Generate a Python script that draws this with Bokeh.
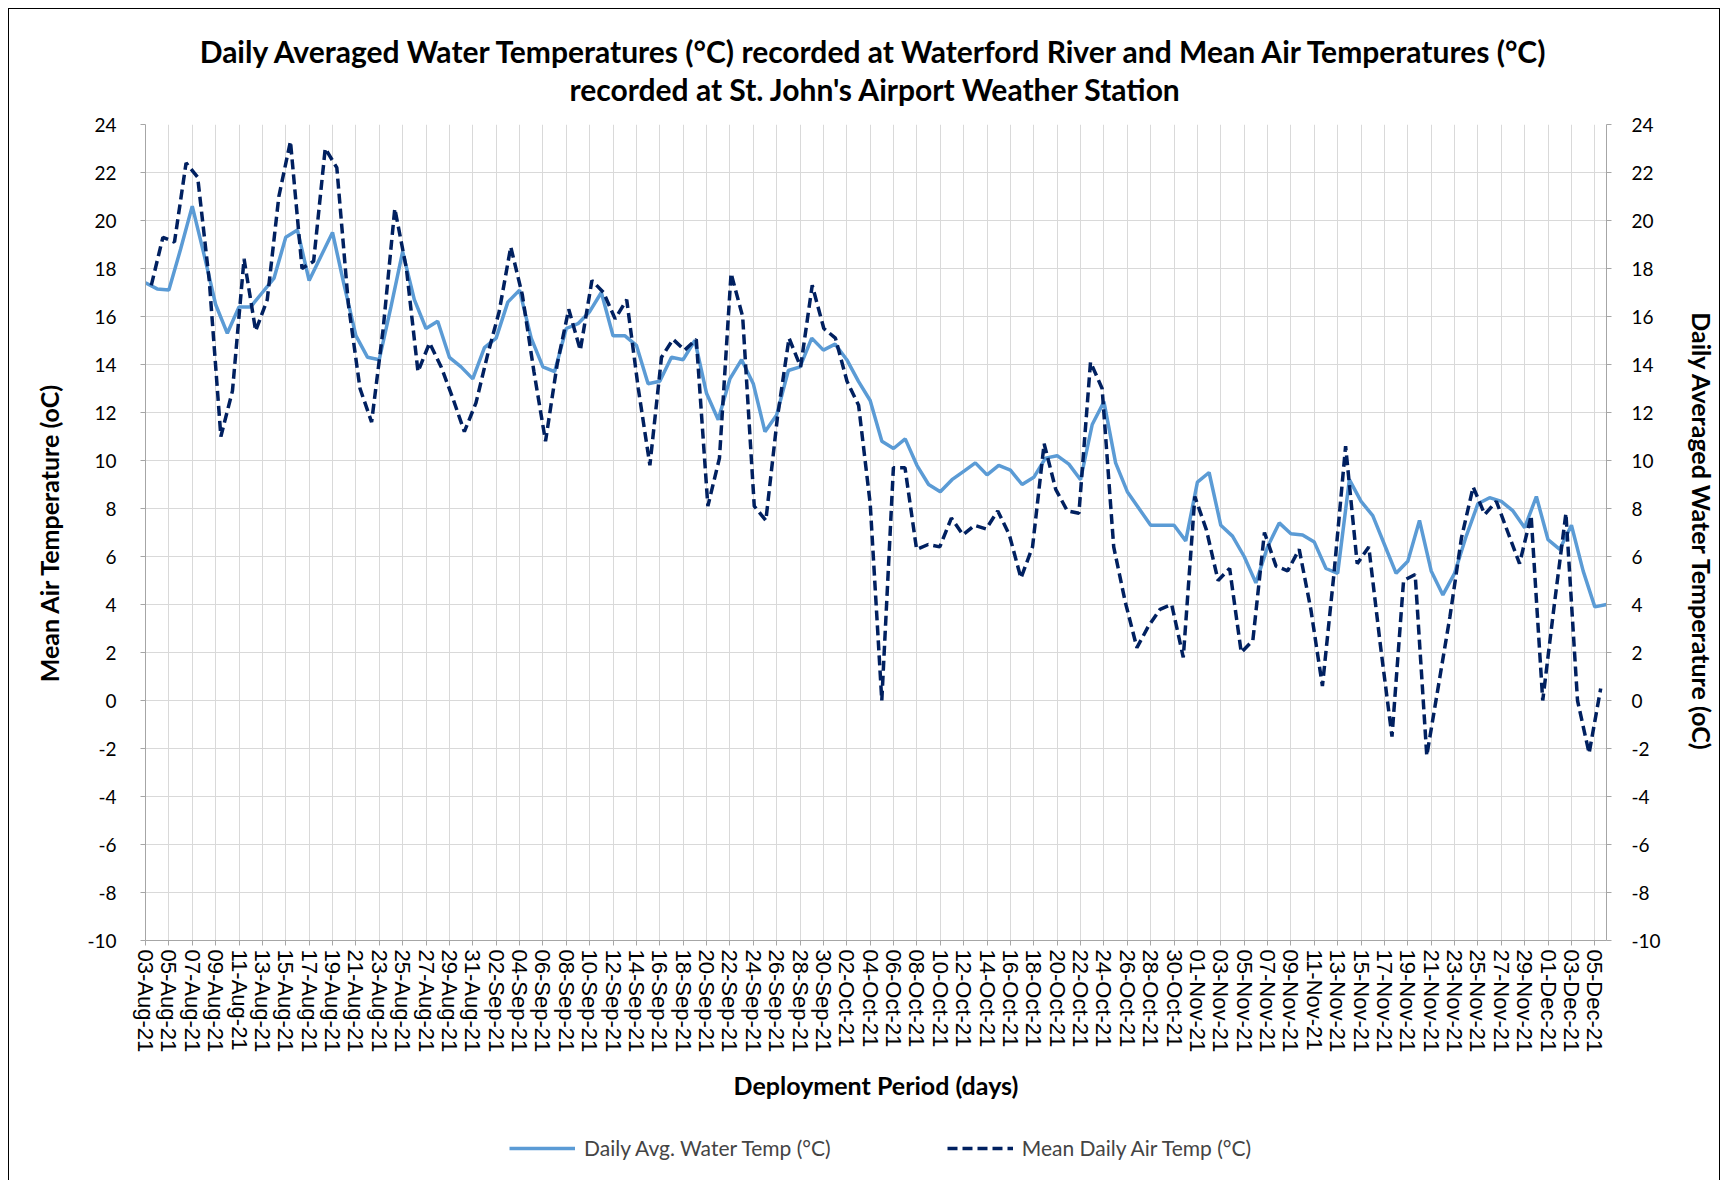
import math
from bokeh.plotting import figure
from bokeh.layouts import column
from bokeh.models import (Range1d, LinearAxis, FixedTicker, Legend, LegendItem, Title)
from bokeh.embed import file_html
from bokeh.resources import INLINE

# ---- data ----
tick_labels = [
    "03-Aug-21", "05-Aug-21", "07-Aug-21", "09-Aug-21", "11-Aug-21", "13-Aug-21", "15-Aug-21",
    "17-Aug-21", "19-Aug-21", "21-Aug-21", "23-Aug-21", "25-Aug-21", "27-Aug-21", "29-Aug-21",
    "31-Aug-21", "02-Sep-21", "04-Sep-21", "06-Sep-21", "08-Sep-21", "10-Sep-21", "12-Sep-21",
    "14-Sep-21", "16-Sep-21", "18-Sep-21", "20-Sep-21", "22-Sep-21", "24-Sep-21", "26-Sep-21",
    "28-Sep-21", "30-Sep-21", "02-Oct-21", "04-Oct-21", "06-Oct-21", "08-Oct-21", "10-Oct-21",
    "12-Oct-21", "14-Oct-21", "16-Oct-21", "18-Oct-21", "20-Oct-21", "22-Oct-21", "24-Oct-21",
    "26-Oct-21", "28-Oct-21", "30-Oct-21", "01-Nov-21", "03-Nov-21", "05-Nov-21", "07-Nov-21",
    "09-Nov-21", "11-Nov-21", "13-Nov-21", "15-Nov-21", "17-Nov-21", "19-Nov-21", "21-Nov-21",
    "23-Nov-21", "25-Nov-21", "27-Nov-21", "29-Nov-21", "01-Dec-21", "03-Dec-21", "05-Dec-21",
]

water_temp = [
    17.4, 17.15, 17.1, 18.8, 20.6, 18.6, 16.5, 15.3, 16.4, 16.4,
    17.0, 17.6, 19.3, 19.6, 17.5, 18.5, 19.5, 17.3, 15.2, 14.3,
    14.2, 16.4, 18.7, 16.7, 15.5, 15.8, 14.3, 13.9, 13.4, 14.7,
    15.1, 16.6, 17.1, 15.1, 13.9, 13.7, 15.5, 15.7, 16.2, 17.0,
    15.2, 15.2, 14.8, 13.2, 13.3, 14.3, 14.2, 15.0, 12.8, 11.7,
    13.4, 14.2, 13.2, 11.2, 11.9, 13.75, 13.9, 15.1, 14.6, 14.85,
    14.2, 13.3, 12.5, 10.8, 10.5, 10.9, 9.8, 9.0, 8.7, 9.2,
    9.55, 9.9, 9.4, 9.8, 9.6, 9.0, 9.3, 10.1, 10.2, 9.85,
    9.2, 11.5, 12.45, 9.9, 8.7, 8.0, 7.3, 7.3, 7.3, 6.65,
    9.1, 9.5, 7.3, 6.85, 6.0, 4.9, 6.4, 7.4, 6.95, 6.9,
    6.6, 5.5, 5.3, 9.2, 8.3, 7.7, 6.5, 5.3, 5.8, 7.5,
    5.4, 4.4, 5.3, 6.85, 8.2, 8.45, 8.3, 7.9, 7.2, 8.5,
    6.7, 6.3, 7.3, 5.4, 3.9, 4.0,
]

air_temp = [
    17.3, 19.3, 19.1, 22.4, 21.8, 17.5, 11.0, 12.9, 18.4, 15.4,
    16.7, 21.0, 23.3, 18.0, 18.3, 23.0, 22.2, 16.5, 13.0, 11.6,
    15.5, 20.5, 18.0, 13.7, 14.9, 13.9, 12.6, 11.2, 12.4, 14.4,
    16.2, 18.9, 16.9, 13.7, 10.8, 14.0, 16.3, 14.6, 17.5, 17.0,
    15.9, 16.7, 13.0, 9.8, 14.3, 15.05, 14.6, 15.05, 8.1, 10.1,
    17.8, 16.0, 8.1, 7.5, 11.8, 15.1, 13.9, 17.3, 15.5, 15.1,
    13.3, 12.3, 8.2, 0.0, 9.7, 9.7, 6.3, 6.5, 6.4, 7.6,
    6.9, 7.3, 7.15, 7.9, 6.9, 5.1, 6.4, 10.7, 8.8, 7.9,
    7.8, 14.1, 13.0, 6.4, 4.1, 2.2, 3.1, 3.8, 4.0, 1.8,
    8.5, 7.1, 5.0, 5.5, 2.0, 2.5, 7.0, 5.6, 5.4, 6.3,
    3.8, 0.6, 5.3, 10.6, 5.7, 6.4, 2.3, -1.5, 5.0, 5.25,
    -2.3, 0.6, 3.5, 6.8, 8.9, 7.75, 8.3, 7.0, 5.7, 7.7,
    0.0, 4.0, 7.8, 0.0, -2.2, 0.5,
]

y_ticks = list(range(-10, 25, 2))
y_tick_labels = [str(v) for v in y_ticks]

series_names = ["Daily Avg. Water Temp (°C)", "Mean Daily Air Temp (°C)"]

# ---- positions ----
span = len(water_temp) - 1
water_x = list(range(len(water_temp)))
n_air = len(air_temp)
# air series sits on a category axis with points centred between tick marks
air_x = [(i + 0.5) * span / n_air for i in range(n_air)]
tick_pos = list(range(0, 2 * len(tick_labels), 2))

FONT = "Lato"
AXIS_GREY = "#a6a6a6"
GRID_GREY = "#d9d9d9"
WATER_STYLE = dict(line_color="#5b9bd5", line_width=3.5)
AIR_STYLE = dict(line_color="#002060", line_width=3.5, line_dash="10 5")

p = figure(
    width=1710, height=1106,
    x_range=Range1d(0, span), y_range=Range1d(-10, 24),
    output_backend="svg", toolbar_location=None,
    min_border_left=136, min_border_right=110,
    min_border_top=115, min_border_bottom=175,
)
p.outline_line_color = None
p.background_fill_color = "white"
p.border_fill_color = "white"

p.extra_y_ranges = {"water": Range1d(-10, 24)}

# grids
p.xgrid.ticker = FixedTicker(ticks=tick_pos)
p.ygrid.ticker = FixedTicker(ticks=y_ticks)
for g in (p.xgrid, p.ygrid):
    g.grid_line_color = GRID_GREY
    g.grid_line_width = 1

# x axis
xa = p.xaxis[0]
xa.ticker = FixedTicker(ticks=tick_pos)
xa.major_label_overrides = {t: lab for t, lab in zip(tick_pos, tick_labels)}
xa.major_label_orientation = -math.pi / 2
xa.axis_label = "Deployment Period (days)"

# left axis
ya = p.yaxis[0]
ya.ticker = FixedTicker(ticks=y_ticks)
ya.axis_label = "Mean Air Temperature (oC)"

# right axis
ra = LinearAxis(y_range_name="water", ticker=FixedTicker(ticks=y_ticks),
                axis_label="Daily Averaged Water Temperature (oC)")
p.add_layout(ra, "right")

for ax in (xa, ya, ra):
    ax.axis_line_color = AXIS_GREY
    ax.major_tick_line_color = AXIS_GREY
    ax.major_tick_out = 5
    ax.major_tick_in = 0
    ax.minor_tick_line_color = None
    ax.major_label_text_color = "#000000"
    ax.axis_label_text_font = FONT
    ax.axis_label_text_font_style = "bold"
    ax.axis_label_text_font_size = "25px"
    ax.axis_label_text_color = "#000000"

for ax in (ya, ra):
    ax.major_label_text_font = FONT
    ax.major_label_text_font_size = "19px"
    ax.major_label_overrides = {t: lab for t, lab in zip(y_ticks, y_tick_labels)}

ya.major_label_standoff = 24
ya.axis_label_standoff = 20
ra.major_label_standoff = 20
ra.axis_label_standoff = 23
ra.axis_label_orientation = "vertical"

xa.major_label_text_font = "Liberation Sans"
xa.major_label_text_font_size = "22px"
xa.major_label_standoff = 4
xa.axis_label_standoff = 15

# series
p.line(water_x, water_temp, y_range_name="water", **WATER_STYLE)
p.line(air_x, air_temp, **AIR_STYLE)

# titles (the one added first sits nearest the plot)
p.add_layout(Title(text="recorded at St. John's Airport Weather Station", align="center",
                   text_font=FONT, text_font_style="bold", text_font_size="30px",
                   text_color="#000000", standoff=36), "above")
p.add_layout(Title(text="Daily Averaged Water Temperatures (°C) recorded at Waterford River and Mean Air Temperatures (°C)",
                   align="center", text_font=FONT, text_font_style="bold", text_font_size="30px",
                   text_color="#000000", standoff=-36), "above")

# ---- legend strip under the chart (its frame aligns with the chart's frame) ----
lf = figure(width=1710, height=65, x_range=Range1d(100, 101), y_range=Range1d(100, 101),
            x_axis_type=None, y_axis_type=None, output_backend="svg",
            toolbar_location=None, min_border=0)
lf.outline_line_color = None
lf.background_fill_color = "white"
lf.border_fill_color = "white"
# one-point key renderers (outside the strip's ranges, so only their legend keys show)
key_w = lf.line(x=water_x[:1], y=water_temp[:1], **WATER_STYLE)
key_a = lf.line(x=air_x[:1], y=air_temp[:1], **AIR_STYLE)
legend = Legend(
    items=[LegendItem(label=series_names[0], renderers=[key_w]),
           LegendItem(label=series_names[1], renderers=[key_a])],
    orientation="horizontal", location=(364, 20),
    spacing=116, glyph_width=66, glyph_height=20, label_standoff=9,
    label_text_font=FONT, label_text_font_size="21px",
    border_line_color=None, background_fill_alpha=0,
    margin=0, padding=0,
)
lf.add_layout(legend, "center")

layout = column(p, lf, spacing=0)
layout.styles = {"margin-left": "8px", "margin-top": "8px",
                 "border-top": "1px solid #000", "border-left": "1px solid #000",
                 "border-right": "1px solid #000"}

html = file_html(layout, INLINE)
html = html.replace("</head>", "<style>html, body { overflow: hidden; }</style></head>", 1)
open("out.html", "w").write(html)
